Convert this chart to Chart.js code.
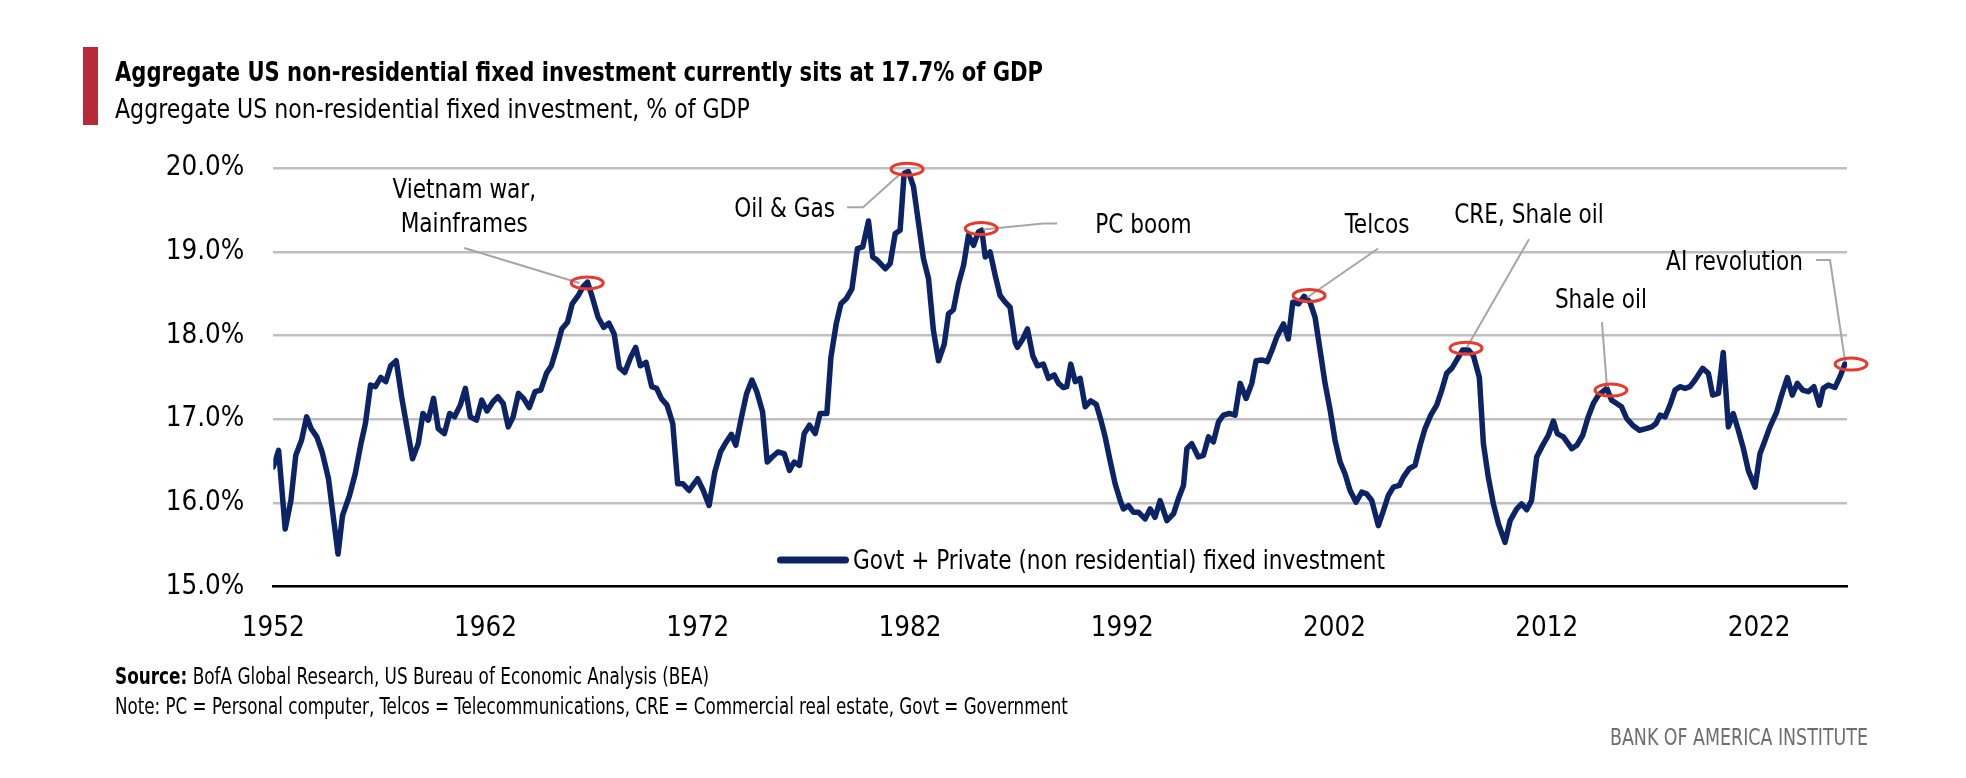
<!DOCTYPE html>
<html><head><meta charset="utf-8">
<script src="https://cdn.jsdelivr.net/npm/chart.js@4.4.1/dist/chart.umd.min.js"></script>
<style>
html,body{margin:0;padding:0;background:#fff;width:1966px;height:778px;overflow:hidden}
#wrap{position:absolute;left:0;top:0;width:1966px;height:778px}
.t{position:absolute;white-space:nowrap;line-height:1;color:#000;margin:0;z-index:2;transform-origin:0 0}
#bar{position:absolute;left:83px;top:47px;width:15px;height:78px;background:#b72a38;z-index:2}
#brand{color:#6e6e6e;transform-origin:100% 0}
</style></head><body>
<div id="wrap"><canvas id="c"></canvas></div>
<div id="bar"></div>
<div id="title" class="t" style="font-weight:bold">Aggregate US non-residential fixed investment currently sits at 17.7% of GDP</div>
<div id="subtitle" class="t">Aggregate US non-residential fixed investment, % of GDP</div>
<div id="source" class="t"><b>Source:</b> BofA Global Research, US Bureau of Economic Analysis (BEA)</div>
<div id="note" class="t">Note: PC = Personal computer, Telcos = Telecommunications, CRE = Commercial real estate, Govt = Government</div>
<div id="brand" class="t">BANK OF AMERICA INSTITUTE</div>
<script>
// ---------------- DATA ----------------
const seriesLabel = 'Govt + Private (non residential) fixed investment';

const years = [
1952.0,1952.25,1952.56,1952.83,1953.06,1953.33,1953.57,1953.78,1954.05,1954.3,
1954.6,1955.05,1955.26,1955.59,1955.86,1956.13,1956.34,1956.58,1956.81,1957.06,
1957.3,1957.53,1957.79,1958.07,1958.56,1958.83,1959.05,1959.3,1959.55,1959.77,
1960.06,1960.31,1960.54,1960.81,1961.05,1961.28,1961.57,1961.82,1962.07,1962.35,
1962.58,1962.83,1963.07,1963.3,1963.55,1963.79,1964.06,1964.33,1964.6,1964.87,
1965.1,1965.36,1965.59,1965.86,1966.08,1966.37,1966.58,1966.8,1967.03,1967.3,
1967.57,1967.81,1968.06,1968.3,1968.56,1968.83,1969.07,1969.29,1969.56,1969.83,
1970.06,1970.28,1970.55,1970.82,1971.05,1971.3,1971.59,1971.99,1972.26,1972.53,
1972.8,1973.07,1973.34,1973.58,1973.79,1974.06,1974.3,1974.55,1974.78,1975.05,
1975.27,1975.5,1975.77,
1976.07,1976.32,1976.54,1976.79,1977.01,1977.26,1977.53,1977.76,1978.08,1978.27,
1978.52,1978.74,1978.99,1979.26,1979.52,1979.77,1980.04,1980.24,1980.46,1980.83,
1981.06,1981.3,1981.53,1981.72,1981.92,1982.16,1982.63,1982.87,1983.1,1983.34,
1983.61,1983.81,1984.04,1984.28,1984.52,1984.75,1984.99,1985.22,1985.38,1985.54,
1985.77,1986.01,1986.24,1986.48,1986.71,1986.95,1987.06,1987.31,1987.53,1987.78,
1988.0,1988.28,1988.52,1988.79,1988.99,1989.23,1989.38,1989.57,1989.78,1990.01,
1990.25,1990.51,1990.77,1990.99,1991.19,1991.42,1991.66,1991.9,1992.05,1992.29,
1992.52,1992.76,1993.07,1993.31,1993.54,1993.78,1994.1,
1994.41,1994.64,1994.88,1995.04,1995.27,1995.58,1995.82,1996.06,1996.29,1996.53,
1996.76,1997.04,1997.31,1997.55,1997.83,1998.1,1998.3,1998.57,1998.83,1999.04,
1999.27,1999.59,1999.82,2000.03,2000.3,2000.56,2000.84,2001.08,2001.32,2001.55,
2001.79,2002.02,2002.26,2002.49,2002.73,2003.01,2003.28,2003.51,2003.75,2004.06,
2004.3,2004.53,2004.77,2005.05,2005.24,2005.52,2005.79,2006.03,2006.26,2006.53,
2006.81,2007.05,2007.28,2007.52,2007.78,2008.04,2008.3,2008.54,2008.82,2009.01,
2009.24,2009.48,2009.72,2010.03,2010.27,2010.58,2010.81,2011.05,2011.28,2011.52,
2011.76,2012.07,2012.31,2012.49,2012.78,
2013.17,2013.41,2013.69,2013.95,2014.19,2014.43,2014.82,2015.05,2015.29,2015.52,
2015.76,2016.04,2016.36,2016.67,2016.94,2017.14,2017.33,2017.57,2017.8,2018.04,
2018.27,2018.51,2018.74,2018.98,2019.34,2019.61,2019.81,2020.08,2020.31,2020.55,
2020.78,2021.02,2021.26,2021.49,2021.81,2022.04,2022.28,2022.51,2022.83,2023.06,
2023.33,2023.56,2023.8,2024.05,2024.32,2024.58,2024.84,2025.02,2025.26,2025.57,
2025.81,2026.04
];

const values = [
16.43,16.63,15.69,16.03,16.57,16.75,17.03,16.89,16.79,16.61,
16.29,15.39,15.85,16.09,16.35,16.71,16.95,17.41,17.39,17.50,
17.45,17.64,17.70,17.23,16.53,16.71,17.07,16.99,17.25,16.89,
16.83,17.07,17.03,17.17,17.37,17.03,16.99,17.23,17.10,17.21,
17.27,17.19,16.91,17.03,17.31,17.25,17.14,17.33,17.35,17.55,
17.64,17.86,18.08,18.16,18.38,18.48,18.58,18.64,18.46,18.22,
18.10,18.15,18.02,17.62,17.56,17.74,17.86,17.64,17.68,17.39,
17.37,17.25,17.17,16.95,16.23,16.23,16.15,16.29,16.15,15.97,
16.37,16.61,16.73,16.82,16.69,17.03,17.31,17.47,17.33,17.09,
16.49,16.55,16.61,
16.59,16.39,16.49,16.45,16.83,16.93,16.83,17.07,17.07,17.74,
18.14,18.38,18.44,18.56,19.04,19.06,19.37,18.94,18.90,18.80,
18.86,19.22,19.26,19.94,19.96,19.78,18.92,18.68,18.06,17.70,
17.90,18.26,18.31,18.62,18.84,19.20,19.08,19.24,19.26,18.94,
19.00,18.72,18.48,18.40,18.34,17.92,17.86,17.96,18.08,17.76,
17.64,17.66,17.49,17.53,17.43,17.38,17.39,17.66,17.45,17.49,
17.15,17.22,17.18,16.99,16.79,16.51,16.23,16.03,15.93,15.97,
15.89,15.89,15.81,15.93,15.83,16.03,15.79,
15.87,16.05,16.21,16.65,16.71,16.55,16.57,16.79,16.73,16.97,
17.05,17.07,17.05,17.43,17.25,17.43,17.70,17.71,17.69,17.82,
17.98,18.14,17.96,18.40,18.38,18.47,18.40,18.22,17.82,17.43,
17.11,16.75,16.49,16.35,16.15,16.01,16.13,16.11,16.03,15.73,
15.91,16.09,16.19,16.21,16.31,16.41,16.45,16.69,16.89,17.05,
17.17,17.35,17.55,17.61,17.72,17.83,17.83,17.76,17.50,16.71,
16.31,15.99,15.75,15.53,15.79,15.93,15.99,15.92,16.03,16.55,
16.67,16.81,16.98,16.83,16.79,
16.65,16.69,16.81,17.03,17.19,17.29,17.37,17.23,17.19,17.15,
17.01,16.93,16.87,16.89,16.91,16.95,17.05,17.03,17.17,17.35,
17.39,17.37,17.39,17.47,17.61,17.55,17.29,17.31,17.80,16.91,
17.07,16.87,16.65,16.39,16.19,16.59,16.75,16.91,17.09,17.29,
17.50,17.29,17.43,17.35,17.33,17.39,17.17,17.37,17.41,17.38,
17.51,17.66
];

const tickYears = [1952, 1962, 1972, 1982, 1992, 2002, 2012, 2022];
const yTicks = [15, 16, 17, 18, 19, 20];

// call-out annotations (text, and the data point they mark)
const annoText  = ['Vietnam war,\nMainframes', 'Oil & Gas', 'PC boom', 'Telcos', 'CRE, Shale oil', 'Shale oil', 'AI revolution'];
const annoYear  = [1966.79, 1981.86, 1985.35, 2000.80, 2008.19, 2015.02, 2026.33];
const annoValue = [18.63, 19.99, 19.28, 18.48, 17.85, 17.35, 17.66];

// ---------------- FONTS ----------------
function hasFont(f){
  const c=document.createElement('canvas').getContext('2d');
  const s='mmmmmmmmmmlli WWW 0123 abc';
  let r=false;
  ['monospace','serif'].forEach(g=>{
    c.font='40px '+g; const a=c.measureText(s).width;
    c.font='40px "'+f+'", '+g; const b=c.measureText(s).width;
    if(Math.abs(a-b)>0.5) r=true;
  });
  return r;
}
let FAM = '"Liberation Sans", Arial, sans-serif';
if (hasFont('Liberation Sans Narrow')) FAM = '"Liberation Sans Narrow", "Liberation Sans", sans-serif';
else if (hasFont('DejaVu Sans Condensed')) FAM = '"DejaVu Sans Condensed", "Liberation Sans", sans-serif';

const mctx = document.createElement('canvas').getContext('2d');
function capRatio(weight, ch){
  mctx.font = weight+' 100px '+FAM;
  return mctx.measureText(ch||'H').actualBoundingBoxAscent/100;
}
function textW(str, size, weight){
  mctx.font = (weight||'normal')+' '+size+'px '+FAM;
  return mctx.measureText(str).width;
}
// chart text: size from cap height, horizontal squeeze from the key label width
const FS = 19.5 / capRatio('normal');
const SX = Math.min(1, 532 / textW(seriesLabel, FS));
const TICK_FS = 21.5 / capRatio('normal', '0') * 0.96;

function placeText(id, targetW, cap, baseline, left, right){
  const el=document.getElementById(id);
  const bold = id==='title';
  const fs = cap / capRatio(bold?'bold':'normal');
  el.style.fontFamily=FAM; el.style.fontSize=fs+'px';
  const w=el.offsetWidth;
  const sx=Math.min(1.15, targetW/w);
  el.style.transform='scaleX('+sx+')';
  const p=document.createElement('span');
  p.style.display='inline-block'; p.style.width='0'; p.style.height='0';
  el.appendChild(p);
  el.style.top='0px';
  const off=p.offsetTop;
  el.removeChild(p);
  el.style.top=(baseline-off)+'px';
  if(right!==undefined){ el.style.left=(right-w)+'px'; }
  else el.style.left=left+'px';
}
placeText('title', 928, 19.5, 80.5, 115);
placeText('subtitle', 635, 19, 117.5, 115);
placeText('source', 594, 16.4, 684.3, 115);
placeText('note', 953, 16.4, 714.3, 115);
placeText('brand', 258, 16.5, 745, undefined, 1868);

function squeezedText(ctx, str, x, y, align){
  ctx.save();
  ctx.translate(x, y); ctx.scale(SX, 1);
  ctx.textAlign=align; ctx.textBaseline='alphabetic';
  ctx.fillText(str, 0, 0);
  ctx.restore();
}

// ---------------- PLUGINS ----------------
const calloutPlugin = {
  id:'callouts',
  afterDatasetsDraw(chart, args, opts){
    const {ctx, scales:{x, y}} = chart;
    ctx.save();
    annoText.forEach((txt, i)=>{
      const cx=x.getPixelForValue(annoYear[i]), cy=y.getPixelForValue(annoValue[i]);
      const L=opts.layout[i];
      ctx.strokeStyle=opts.leaderColor; ctx.lineWidth=2; ctx.lineCap='butt'; ctx.lineJoin='miter';
      ctx.beginPath();
      L.leader.forEach(([dx,dy],k)=>{ if(k) ctx.lineTo(cx+dx,cy+dy); else ctx.moveTo(cx+dx,cy+dy); });
      ctx.stroke();
      ctx.strokeStyle=opts.ringColor; ctx.lineWidth=3;
      ctx.beginPath(); ctx.ellipse(cx, cy, 16, 6, 0, 0, Math.PI*2); ctx.stroke();
      ctx.fillStyle='#000'; ctx.font=FS+'px '+FAM;
      txt.split('\n').forEach((line,k)=>squeezedText(ctx, line, cx+L.dx, cy+L.dy[k], L.align));
    });
    ctx.restore();
  }
};

const keyPlugin = {
  id:'seriesKey',
  afterDraw(chart, args, opts){
    const {ctx}=chart; const ds=chart.data.datasets[0];
    ctx.save();
    ctx.strokeStyle=ds.borderColor; ctx.lineWidth=7; ctx.lineCap='round';
    ctx.beginPath(); ctx.moveTo(opts.x0+3.5, opts.y); ctx.lineTo(opts.x1-3.5, opts.y); ctx.stroke();
    ctx.fillStyle='#000'; ctx.font=FS+'px '+FAM;
    squeezedText(ctx, ds.label, opts.textX, opts.baseline, 'left');
    ctx.restore();
  }
};

// ---------------- CHART ----------------
const ctx=document.getElementById('c');
new Chart(ctx, {
  type:'line',
  data:{datasets:[{
    label: seriesLabel,
    data: years.map((yr,i)=>({x:yr, y:values[i]})),
    borderColor:'#0c2366', borderWidth:5.5, pointRadius:0, tension:0,
    borderJoinStyle:'round', borderCapStyle:'round', fill:false
  }]},
  options:{
    responsive:true, maintainAspectRatio:false, animation:false,
    layout:{padding:{left:0, top:168.3, right:119, bottom:0}},
    plugins:{
      legend:{display:false}, tooltip:{enabled:false}, title:{display:false},
      callouts:{
        leaderColor:'#a6a6a6', ringColor:'#e8392c',
        layout:[
          {align:'center', dx:-123, dy:[-85,-51], leader:[[-123,-35],[-8,0]]},
          {align:'right',  dx:-72,  dy:[48],      leader:[[-60,38],[-44,38],[-5,3]]},
          {align:'left',   dx:114,  dy:[4],       leader:[[2,1],[62,-5],[76,-5]]},
          {align:'center', dx:68,   dy:[-62],     leader:[[-2,2],[69,-47]]},
          {align:'center', dx:63,   dy:[-125],    leader:[[1,-1],[63,-109]]},
          {align:'center', dx:-10,  dy:[-82],     leader:[[-9,-68],[-4,-3]]},
          {align:'right',  dx:-48,  dy:[-94],     leader:[[-35,-104],[-21,-104],[-6,-3]]}
        ]
      },
      seriesKey:{x0:777, x1:849, y:560, textX:853, baseline:569}
    },
    scales:{
      x:{
        type:'linear', min:1952, max:2026.14,
        afterBuildTicks:s=>{ s.ticks=tickYears.map(v=>({value:v})); },
        ticks:{callback:v=>String(v), font:{family:FAM, size:TICK_FS}, color:'#000', padding:26, maxRotation:0, autoSkip:false},
        grid:{display:false, drawTicks:false},
        border:{display:true, color:'#000', width:2.5},
        afterFit:s=>{ s.height=778-586.7; }
      },
      y:{
        min:15, max:20,
        afterBuildTicks:s=>{ s.ticks=yTicks.map(v=>({value:v})); },
        ticks:{callback:v=>v.toFixed(1)+'%', font:{family:FAM, size:TICK_FS}, color:'#000', padding:29},
        grid:{color:'#bfbfbf', lineWidth:2.5, drawTicks:false},
        border:{display:false},
        afterFit:s=>{ s.width=273.3; }
      }
    }
  },
  plugins:[calloutPlugin, keyPlugin]
});
</script>
</body></html>
